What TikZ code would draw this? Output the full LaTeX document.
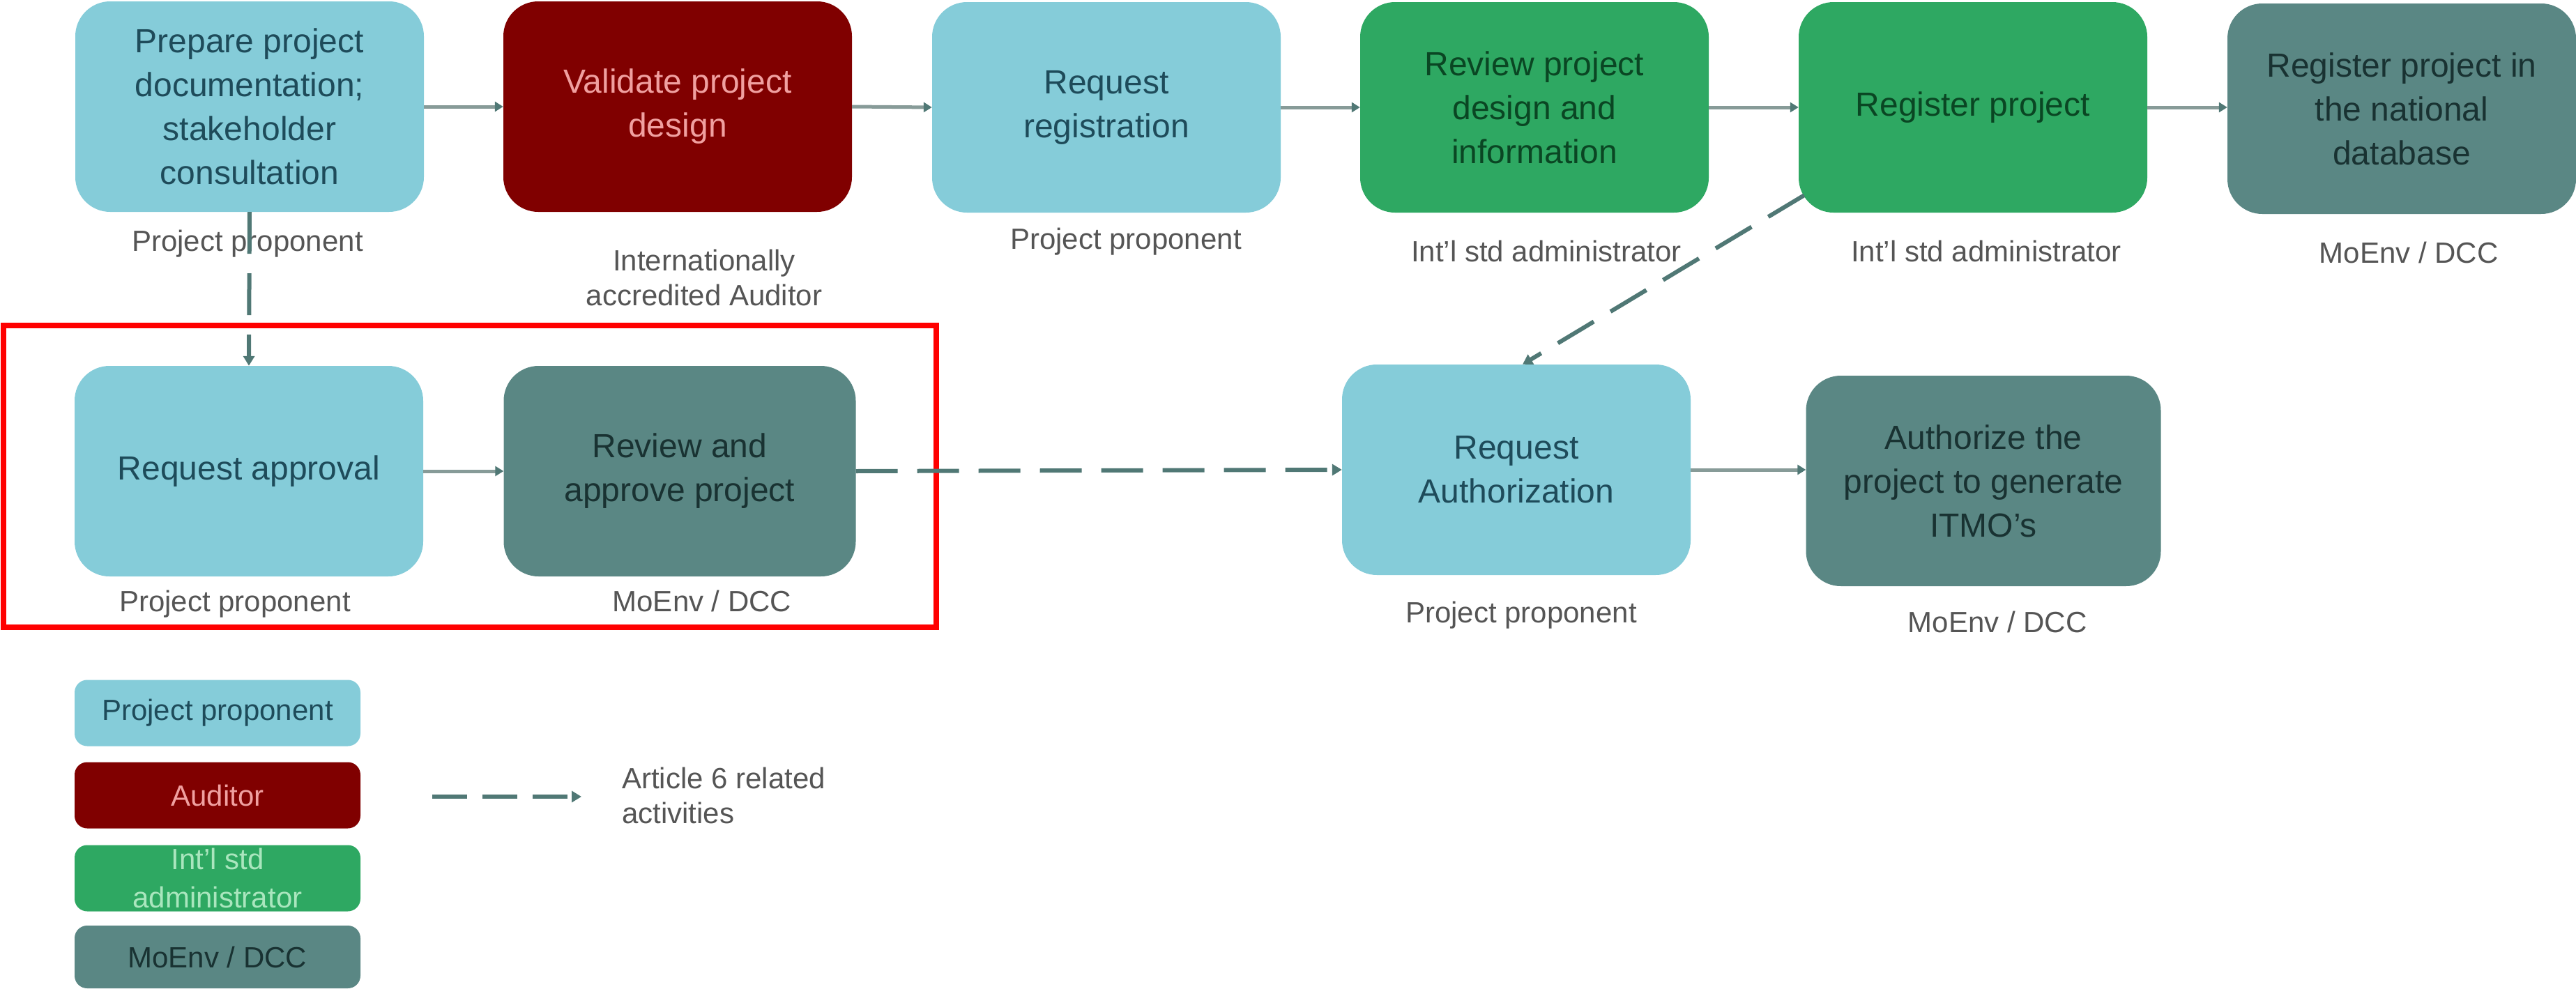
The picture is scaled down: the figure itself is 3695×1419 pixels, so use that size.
\documentclass[tikz,border=0pt]{standalone}
\usepackage{fontspec}
\setmainfont{Liberation Sans}
\usetikzlibrary{arrows.meta,calc}
\definecolor{cblue}{RGB}{133,204,217}
\definecolor{cred}{RGB}{128,0,0}
\definecolor{cgreen}{RGB}{46,168,98}
\definecolor{cteal}{RGB}{90,135,132}
\definecolor{tblue}{RGB}{30,75,90}
\definecolor{tred}{RGB}{240,160,160}
\definecolor{tgreen}{RGB}{10,70,35}
\definecolor{tteal}{RGB}{25,50,50}
\definecolor{tlgreen}{RGB}{170,230,190}
\definecolor{arrsolid}{RGB}{135,155,152}
\definecolor{arrdash}{RGB}{80,120,117}
\definecolor{lblgray}{RGB}{85,85,85}
\tikzset{
  x=1pt, y=-1pt,
  procbox/.style={rectangle, rounded corners=50pt, minimum width=500pt, minimum height=302pt,
    inner sep=0pt, align=center, font={\fontsize{48}{63}\selectfont}},
  pp/.style={procbox, fill=cblue, text=tblue},
  au/.style={procbox, fill=cred, text=tred},
  ia/.style={procbox, fill=cgreen, text=tgreen},
  me/.style={procbox, fill=cteal, text=tteal},
  lbl/.style={inner sep=0pt, align=center, text=lblgray, font={\fontsize{42}{50}\selectfont}},
  legbox/.style={rectangle, rounded corners=18pt, minimum width=410pt, minimum height=95pt,
    inner sep=0pt, align=center, font={\fontsize{42}{55}\selectfont}},
  solidarr/.style={draw=arrsolid, line width=5pt, -{Triangle[length=12pt,width=14pt,color=arrdash]}},
  dasharr/.style={draw=arrdash, line width=6pt, dash pattern=on 60pt off 28pt,
    -{Triangle[length=14pt,width=16pt]}}
}
\begin{document}
\begin{tikzpicture}
\useasboundingbox[fill=white] (0,0) rectangle (3695,1419);
% top row
\node[pp] (b1) at (358,153) {Prepare project\\documentation;\\stakeholder\\consultation};
\node[au] (b2) at (972,153) {Validate project\\design};
\node[pp] (b3) at (1587,154) {Request\\registration};
\node[ia] (b4) at (2201,154) {Review project\\design and\\information};
\node[ia] (b5) at (2830,154) {Register project};
\node[me] (b6) at (3445,156) {Register project in\\the national\\database};
% second row
\node[pp] (ra) at (357,676) {Request approval};
\node[me, minimum width=505pt] (rap) at (975,676) {Review and\\approve project};
\node[pp] (rau) at (2175,674) {Request\\Authorization};
\node[me, minimum width=509pt] (aut) at (2845,690) {Authorize the\\project to generate\\ITMO’s};
% labels
\node[lbl] (l1) at (355,350) {Project proponent};
\node[lbl] (l2) at (1010,398) {Internationally\\accredited Auditor};
\node[lbl] (l3) at (1615,347) {Project proponent};
\node[lbl] (l4) at (2218,360) {Int’l std administrator};
\node[lbl] (l5) at (2849,360) {Int’l std administrator};
\node[lbl] (l6) at (3455,362) {MoEnv / DCC};
\node[lbl] (l7) at (337,867) {Project proponent};
\node[lbl] (l8) at (1007,862) {MoEnv / DCC};
\node[lbl] (l9) at (2182,883) {Project proponent};
\node[lbl] (l10) at (2865,892) {MoEnv / DCC};
% highlight
\node[draw=red, line width=8pt, minimum width=1338pt, minimum height=433pt, inner sep=0pt] (hl) at (674,683.5) {};
% legend
\node[legbox, fill=cblue, text=tblue] (lg1) at (312,1023) {Project proponent};
\node[legbox, fill=cred, text=tred] (lg2) at (312,1141) {Auditor};
\node[legbox, fill=cgreen, text=tlgreen] (lg3) at (312,1260) {Int’l std\\administrator};
\node[legbox, fill=cteal, text=tteal, minimum height=90pt] (lg4) at (312,1373) {MoEnv / DCC};
\coordinate (la1) at (620,1143);
\coordinate (la2) at (834,1143);
\node[lbl, anchor=west, align=left] (lgt) at (892,1141) {Article 6 related\\activities};
% connectors
\draw[solidarr] (b1.east) -- (b2.west);
\draw[solidarr] (b2.east) -- (b3.west);
\draw[solidarr] (b3.east) -- (b4.west);
\draw[solidarr] (b4.east) -- (b5.west);
\draw[solidarr] (b5.east) -- (b5.east -| b6.west);
\draw[solidarr] (ra.east) -- (rap.west);
\draw[solidarr] (rau.east) -- (rau.east -| aut.west);
\draw[dasharr] (b1.south) -- (ra.north);
\draw[dasharr] (rap.east) -- (rau.west);
\draw[dasharr] ([shift={(8,-25)}]b5.south west) -- ([xshift=9pt]rau.north);
\draw[dasharr, dash pattern=on 50pt off 22pt] (la1) -- (la2);
\end{tikzpicture}
\end{document}
